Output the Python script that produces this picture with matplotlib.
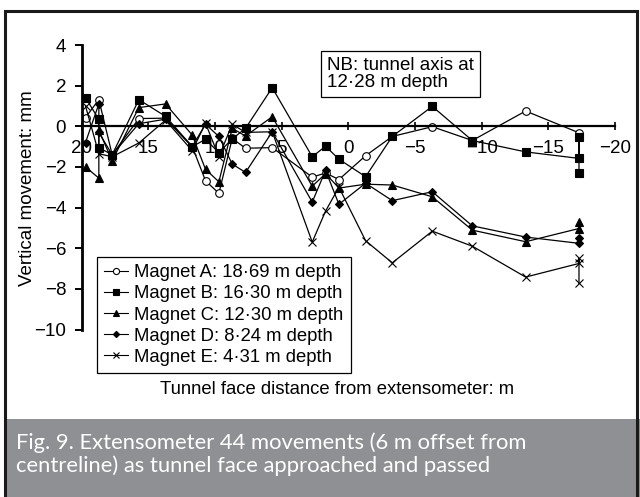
import matplotlib
matplotlib.use("Agg")
import matplotlib.pyplot as plt
from matplotlib.lines import Line2D
from matplotlib.patches import Rectangle

plt.rcParams['font.family'] = ['Liberation Sans', 'DejaVu Sans']

# Tunnel face distance from extensometer (m) and vertical movement (mm)
x_a = [19.7, 18.7, 17.7, 15.7, 13.7, 11.7, 10.7, 9.7, 8.7, 7.7, 5.7, 2.7, 1.7, 0.7,
       -1.3, -3.3, -6.3, -9.3, -13.3, -17.3]
y_a = [0.43, 1.31, -1.4, 0.38, 0.4, -1.0, -2.68, -3.3, -0.6, -1.08, -1.05, -2.5, -2.3, -2.62,
       -1.45, -0.5, -0.02, -0.7, 0.75, -0.32]

x_b = [19.7, 18.7, 18.7, 17.7, 15.7, 13.7, 11.7, 10.7, 9.7, 8.7, 7.7, 5.7, 2.7, 1.7, 0.7,
       -1.3, -3.3, -6.3, -9.3, -13.3, -17.3, -17.3, -17.3]
y_b = [1.41, 0.34, -1.05, -1.4, 1.31, 0.49, -1.0, -0.64, -1.3, -0.62, -0.1, 1.9, -1.5, -0.98, -1.62,
       -2.48, -0.5, 0.98, -0.7, -1.26, -1.58, -0.55, -2.32]

x_c = [19.7, 18.7, 18.7, 17.7, 15.7, 13.7, 11.7, 10.7, 9.7, 8.7, 7.7, 5.7, 2.7, 1.7, 0.7,
       -1.3, -3.3, -6.3, -9.3, -13.3, -17.3, -17.3]
y_c = [-2.0, -2.55, -0.2, -1.7, 0.92, 1.1, -0.43, -2.12, -2.73, -0.1, -0.48, 0.47, -2.95, -2.33, -3.04,
       -2.85, -2.89, -3.47, -5.11, -5.68, -5.03, -4.7]

x_d = [19.7, 18.7, 18.7, 17.7, 15.7, 13.7, 11.7, 10.7, 9.7, 8.7, 7.7, 5.7, 2.7, 1.7, 0.7,
       -1.3, -3.3, -6.3, -9.3, -13.3, -17.3, -17.3]
y_d = [-0.8, 1.1, -0.3, -1.4, 0.13, 0.35, -1.0, 0.1, -0.5, -1.86, -2.27, -0.27, -3.73, -2.17, -3.84,
       -2.8, -3.66, -3.22, -4.9, -5.45, -5.76, -5.52]

x_e = [19.7, 18.7, 17.7, 15.7, 13.7, 11.7, 10.7, 9.7, 8.7, 7.7, 5.7, 2.7, 1.7, 0.7,
       -1.3, -3.3, -6.3, -9.3, -13.3, -17.3, -17.3, -17.3]
y_e = [1.0, -1.35, -1.5, -0.82, 0.3, -1.2, 0.15, -1.5, 0.1, -0.3, -0.27, -5.7, -4.17, -3.0,
       -5.63, -6.72, -5.16, -5.9, -7.42, -6.75, -6.5, -7.73]

labels = ["Magnet A: 18·69 m depth", "Magnet B: 16·30 m depth", "Magnet C: 12·30 m depth",
          "Magnet D: 8·24 m depth", "Magnet E: 4·31 m depth"]
x_ticks = [20, 15, 10, 5, 0, -5, -10, -15, -20]
y_ticks = [-10, -8, -6, -4, -2, 0, 2, 4]

W, H = 640, 497
fig = plt.figure(figsize=(W / 100, H / 100), dpi=100)

# caption band and outer frame
fig.patches.append(Rectangle((5 / W, 0), (W - 5) / W, (H - 419) / H, transform=fig.transFigure,
                             facecolor='#8f9094', edgecolor='none', zorder=1))
fig.patches.append(Rectangle((5 / W, -0.01), 632 / W, 1.01 - 11 / H, transform=fig.transFigure,
                             fill=False, edgecolor='#1a1a1a', linewidth=2.2, zorder=2))
fig.text(16 / W, 1 - 443 / H, "Fig. 9. Extensometer 44 movements (6 m offset from",
         family='Lato', fontsize=15.8, color='white', va='center', ha='left')
fig.text(16 / W, 1 - 466 / H, "centreline) as tunnel face approached and passed",
         family='Lato', fontsize=15.8, color='white', va='center', ha='left')

ax = fig.add_axes([81.5 / W, (H - 329.5) / H, (615 - 81.5) / W, (329.5 - 45) / H])
ax.set_xlim(20, -20)
ax.set_ylim(-10, 4)

styles = [
    dict(marker='o', markerfacecolor='white', markersize=5.5),
    dict(marker='s', markerfacecolor='black', markersize=5.5),
    dict(marker='^', markerfacecolor='black', markersize=6),
    dict(marker='D', markerfacecolor='black', markersize=4),
    dict(marker='x', markerfacecolor='black', markersize=6),
]
series = [(x_a, y_a), (x_b, y_b), (x_c, y_c), (x_d, y_d), (x_e, y_e)]
for (xs, ys), st in zip(series, styles):
    ax.plot(xs, ys, color='black', linewidth=0.9, markeredgecolor='black',
            markeredgewidth=0.8, clip_on=False, **st)

for side in ('top', 'right'):
    ax.spines[side].set_visible(False)
ax.spines['bottom'].set_position(('data', 0))
ax.spines['bottom'].set_linewidth(1.6)
ax.spines['left'].set_linewidth(2.0)
ax.set_xticks(x_ticks)
ax.set_xticklabels([f"{v:d}".replace('-', '\u2212') for v in x_ticks])
ax.set_yticks(y_ticks)
ax.set_yticklabels([f"{v:d}".replace('-', '\u2212') for v in y_ticks])
ax.tick_params(axis='x', direction='inout', length=6, width=1.2, labelsize=13.5, pad=7)
ax.tick_params(axis='y', direction='out', length=5, width=1.4, labelsize=13.5, pad=6)
ax.set_facecolor('none')

fig.text(28 / W, 1 - 188 / H, "Vertical movement: mm", rotation=90, fontsize=13.5,
         ha='center', va='center')
fig.text(337 / W, 1 - 390 / H, "Tunnel face distance from extensometer: m", fontsize=13.3,
         ha='center', va='center')

fig.text(327 / W, 1 - 74 / H, "NB: tunnel axis at\n12·28 m depth",
         fontsize=13.5, ha='left', va='center', linespacing=1.05,
         bbox=dict(boxstyle='square,pad=0.3', facecolor='white', edgecolor='black', linewidth=0.9))

handles = [Line2D([], [], color='black', linewidth=0.8, markeredgecolor='black',
                  markeredgewidth=0.8, **st) for st in styles]
for h in handles:
    h.set_markersize(h.get_markersize() * 0.8)
leg = ax.legend(handles, labels, loc='upper left', bbox_to_anchor=(97 / W, 1 - 257 / H),
                bbox_transform=fig.transFigure, fontsize=13.3, frameon=True, fancybox=False,
                edgecolor='black', framealpha=1, handlelength=1.3, handletextpad=0.3,
                labelspacing=0.22, borderpad=0.4, borderaxespad=0)
leg.get_frame().set_linewidth(0.9)

fig.savefig("out.png", dpi=100)
